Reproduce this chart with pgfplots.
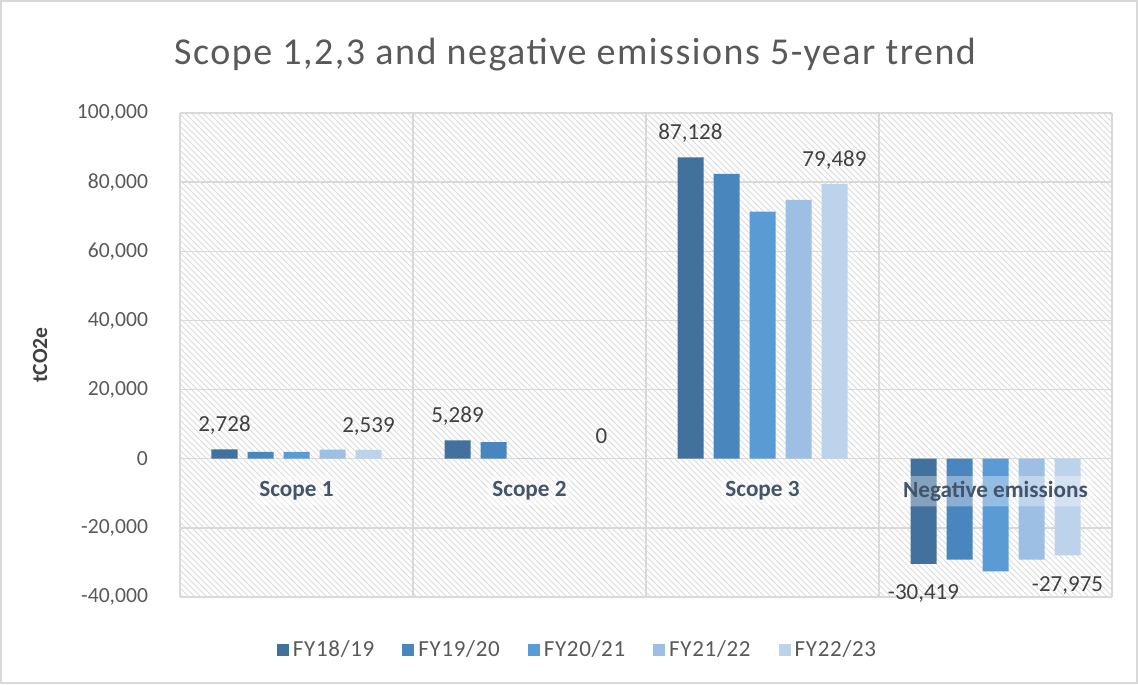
\documentclass[border=0pt]{standalone}
\usepackage{pgfplots}
\pgfplotsset{compat=1.18}
\usepackage{fontspec}
\setmainfont{Carlito}
\newfontfamily\titlefont[LetterSpace=4]{Carlito}
\newfontfamily\legfont[LetterSpace=3]{Carlito}
\usetikzlibrary{patterns}
\definecolor{c1}{HTML}{41719C}
\definecolor{c2}{HTML}{4A86BE}
\definecolor{c3}{HTML}{5B9BD5}
\definecolor{c4}{HTML}{9DBFE3}
\definecolor{c5}{HTML}{BDD3EC}
\definecolor{txt}{HTML}{595959}
\definecolor{lbl}{HTML}{404040}
\definecolor{cat}{HTML}{44546A}
\definecolor{gridc}{HTML}{D9D9D9}
\begin{document}
\begin{tikzpicture}
\useasboundingbox (0,0) rectangle (569pt,342pt);
\draw[gridc, line width=0.6pt] (0.5pt,0.5pt) rectangle (568.5pt,341.5pt);
\node[text=txt, font=\titlefont\fontsize{19}{22}\selectfont] at (287.5pt,314.5pt) {Scope 1,2,3 and negative emissions 5-year trend};
\begin{axis}[
  at={(90pt,43.5pt)}, anchor=south west,
  scale only axis, width=466pt, height=242pt,
  xmin=-0.5, xmax=3.5, ymin=-40000, ymax=100000,
  axis x line*=middle, axis y line*=left,
  axis line style={draw=gridc, line width=0.75pt},
  xtick={0,1,2,3},
  xticklabels={},
  minor xtick={-0.5,0.5,1.5,2.5,3.5},
  ytick={-40000,-20000,0,20000,40000,60000,80000,100000},
  xminorgrids, ymajorgrids,
  grid style={draw=gridc, line width=0.75pt},
  minor grid style={draw=gridc, line width=0.75pt},
  major tick length=0pt, minor tick length=0pt,
  xtick style={draw=none}, ytick style={draw=none},
  scaled y ticks=false,
  /pgf/number format/.cd, fixed, precision=0, 1000 sep={,}, assume math mode=true,
  /pgfplots/.cd,
  yticklabel style={text=txt, font=\fontsize{10.8}{12}\selectfont, xshift=-12.5pt},
  ylabel={tCO2e},
  every axis y label/.style={at={(axis description cs:-0.150,0.5)}, rotate=90, anchor=center,
    font=\fontsize{10.8}{12}\selectfont\bfseries, text=lbl},
  axis background/.style={pattern=north west lines, pattern color=gray!28},
  ybar=5pt, bar width=13pt,
  nodes near coords style={text=lbl, font=\fontsize{11.5}{13}\selectfont, inner sep=7.2pt, text height=10.5pt},
  legend style={at={(0.4276,-0.1095)}, anchor=center, draw=none, fill=none,
    legend columns=5, font=\legfont\fontsize{11.5}{14}\selectfont, text=txt,
    /tikz/every even column/.append style={column sep=12pt}},
  legend image code/.code={\fill[#1, draw=none] (0pt,-3pt) rectangle (6pt,3pt);},
]
\addplot[fill=c1, draw=none, nodes near coords] coordinates {(0,2728) (1,5289) (2,87128) (3,-30419)};
\addplot[fill=c2, draw=none] coordinates {(0,2000) (1,4800) (2,82400) (3,-29200)};
\addplot[fill=c3, draw=none] coordinates {(0,1950) (1,0) (2,71500) (3,-32600)};
\addplot[fill=c4, draw=none] coordinates {(0,2650) (1,0) (2,74900) (3,-29200)};
\addplot[fill=c5, draw=none, nodes near coords] coordinates {(0,2539) (1,0) (2,79489) (3,-27975)};
\legend{FY18/19, FY19/20, FY20/21, FY21/22, FY22/23}
\end{axis}
% overlay axis carrying only the category labels, drawn above the bars
\begin{axis}[
  at={(90pt,43.5pt)}, anchor=south west,
  scale only axis, width=466pt, height=242pt,
  xmin=-0.5, xmax=3.5, ymin=-40000, ymax=100000,
  axis x line*=middle, axis y line=none,
  axis line style={draw=none},
  xtick={0,1,2,3}, ytick=\empty,
  xticklabels={Scope 1, Scope 2, Scope 3, Negative emissions},
  major tick length=0pt, xtick style={draw=none},
  xticklabel style={text=cat, font=\fontsize{11.6}{13}\selectfont\bfseries, yshift=-8.5pt,
    fill=white, fill opacity=0.35, text opacity=1, inner sep=2.5pt, rounded corners=3pt},
]
\end{axis}
\end{tikzpicture}
\end{document}
